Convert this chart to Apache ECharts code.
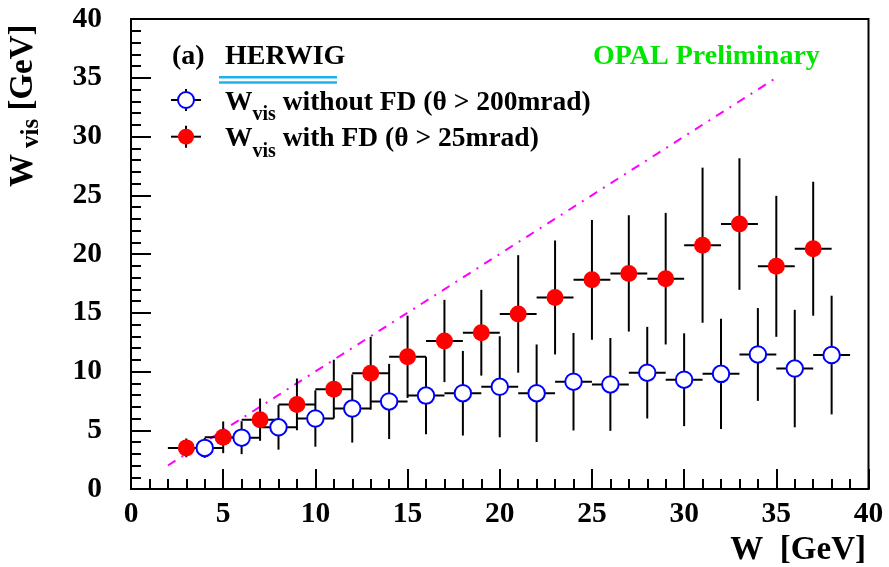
<!DOCTYPE html>
<html>
<head>
<meta charset="utf-8">
<script src="https://cdn.jsdelivr.net/npm/echarts@6/dist/echarts.min.js"></script>
<style>
  html, body { margin: 0; padding: 0; background: #fff; }
  #chart { width: 889px; height: 567px; }
</style>
</head>
<body>
<div id="chart"></div>
<script>
// W_vis with forward detectors (theta > 25 mrad), odd W bins
var wFD = [3, 5, 7, 9, 11, 13, 15, 17, 19, 21, 23, 25, 27, 29, 31, 33, 35, 37];
var visFD = [3.5, 4.4, 5.9, 7.2, 8.5, 9.85, 11.25, 12.6, 13.3, 14.9, 16.3, 17.8, 18.35, 17.9, 20.75, 22.55, 18.95, 20.45];
var errFD = [0.8, 1.35, 1.8, 2.2, 2.5, 3.1, 3.5, 3.5, 3.65, 5.0, 4.85, 5.1, 4.95, 5.6, 6.6, 5.6, 6.0, 5.7];

// W_vis without forward detectors (theta > 200 mrad), even W bins
var wNoFD = [4, 6, 8, 10, 12, 14, 16, 18, 20, 22, 24, 26, 28, 30, 32, 34, 36, 38];
var visNoFD = [3.5, 4.37, 5.25, 6.0, 6.85, 7.45, 7.95, 8.15, 8.7, 8.15, 9.13, 8.9, 9.9, 9.3, 9.8, 11.45, 10.25, 11.4];
var errNoFD = [0.85, 1.4, 1.9, 2.4, 2.9, 3.2, 3.3, 3.6, 4.3, 4.15, 4.15, 3.95, 3.9, 3.95, 4.7, 3.95, 5.0, 5.05];

var halfBin = 1;          // horizontal bar = bin width / 2
var diagonal = [2, 35];   // W_vis = W reference line
var axisRange = [0, 40];
var tickStep = 5;

var FONT = '"Liberation Serif", "Times New Roman", serif';
var ctx = document.createElement('canvas').getContext('2d');
function textWidth(s, size) {
    ctx.font = 'bold ' + size + 'px ' + FONT;
    return ctx.measureText(s).width;
}
// text made of pieces [text, fontSize, baselineShift, gapBefore], placed on one baseline
function multiText(x, y, parts, color, rotation) {
    var children = [], cx = 0;
    parts.forEach(function (p) {
        var size = p[1], base = p[2] || 0;
        cx += p[3] || 0;
        children.push({
            type: 'text', x: cx, y: base - 0.3375 * size,
            style: { text: p[0], font: 'bold ' + size + 'px ' + FONT, fill: color || '#000', textAlign: 'left', textVerticalAlign: 'middle' }
        });
        cx += textWidth(p[0], size);
    });
    return { type: 'group', x: x, y: y, rotation: rotation || 0, children: children, silent: true };
}

function pairs(xs, ys, es) {
    return xs.map(function (x, i) { return es ? [x, ys[i], es[i]] : [x, ys[i]]; });
}

function errorSeries(data) {
    return {
        type: 'custom',
        data: data,
        encode: { x: 0, y: 1 },
        silent: true,
        z: 2,
        renderItem: function (params, api) {
            var x = api.value(0), y = api.value(1), e = api.value(2);
            var l = api.coord([x - halfBin, y]), r = api.coord([x + halfBin, y]);
            var t = api.coord([x, y + e]), b = api.coord([x, y - e]);
            var st = { stroke: '#000', lineWidth: 2 };
            return {
                type: 'group',
                children: [
                    { type: 'line', shape: { x1: l[0], y1: l[1], x2: r[0], y2: r[1] }, style: st },
                    { type: 'line', shape: { x1: t[0], y1: t[1], x2: b[0], y2: b[1] }, style: st }
                ]
            };
        }
    };
}

function axis(extra) {
    return Object.assign({
        type: 'value',
        min: axisRange[0],
        max: axisRange[1],
        interval: tickStep,
        axisLine: { show: true, onZero: false, lineStyle: { color: '#000', width: 2 } },
        axisTick: { show: true, inside: true, length: 20, lineStyle: { color: '#000', width: 2 } },
        minorTick: { show: true, splitNumber: 5, length: 10, lineStyle: { color: '#000', width: 2 } },
        splitLine: { show: false }
    }, extra);
}

var legendMarker = function (cy, fill, stroke) {
    return [
        { type: 'line', shape: { x1: 171, y1: cy, x2: 201, y2: cy }, style: { stroke: '#000', lineWidth: 2 } },
        { type: 'line', shape: { x1: 186, y1: cy - 11, x2: 186, y2: cy + 11 }, style: { stroke: '#000', lineWidth: 2 } },
        { type: 'circle', shape: { cx: 186, cy: cy, r: 8 }, style: { fill: fill, stroke: stroke, lineWidth: stroke === 'none' ? 0 : 2 } }
    ];
};

var chart = echarts.init(document.getElementById('chart'));
chart.setOption({
    animation: false,
    backgroundColor: '#fff',
    grid: { left: 131, right: 20.5, top: 19, bottom: 78, show: true, borderColor: '#000', borderWidth: 2 },
    xAxis: axis({ axisLabel: { color: '#000', fontFamily: FONT, fontWeight: 'bold', fontSize: 29.5, margin: 10 } }),
    yAxis: axis({ axisLabel: { color: '#000', fontFamily: FONT, fontWeight: 'bold', fontSize: 29.5, margin: 29 } }),
    series: [
        {
            type: 'line',
            data: [[diagonal[0], diagonal[0]], [diagonal[1], diagonal[1]]],
            symbol: 'none',
            silent: true,
            z: 1,
            lineStyle: { color: '#ff00ff', width: 2, type: [9, 7, 2, 7] }
        },
        errorSeries(pairs(wNoFD, visNoFD, errNoFD)),
        errorSeries(pairs(wFD, visFD, errFD)),
        {
            type: 'scatter',
            data: pairs(wNoFD, visNoFD),
            symbol: 'circle',
            symbolSize: 16.5,
            z: 3,
            itemStyle: { color: '#fff', borderColor: '#0000ff', borderWidth: 2, opacity: 1 }
        },
        {
            type: 'scatter',
            data: pairs(wFD, visFD),
            symbol: 'circle',
            symbolSize: 17,
            z: 3,
            itemStyle: { color: '#ff0000', opacity: 1 }
        }
    ],
    graphic: [].concat(
        [
            multiText(172, 66.7, [['(a)', 28]]),
            multiText(225, 66.7, [['HERWIG', 28]]),
            { type: 'line', shape: { x1: 219, y1: 77.3, x2: 337, y2: 77.3 }, style: { stroke: '#1fb0ee', lineWidth: 2.5 } },
            { type: 'line', shape: { x1: 219, y1: 82.5, x2: 337, y2: 82.5 }, style: { stroke: '#1fb0ee', lineWidth: 2.5 } },
            multiText(593, 66, [['OPAL Preliminary', 28]], '#00e600')
        ],
        legendMarker(100, '#fff', '#0000ff'),
        legendMarker(136.7, '#ff0000', 'none'),
        [
            multiText(225, 111.7, [['W', 27.5], ['vis', 20, 10], [' without FD (\u03b8 > 200mrad)', 27.5]]),
            multiText(225, 148.3, [['W', 27.5], ['vis', 20, 10], [' with FD (\u03b8 > 25mrad)', 27.5]]),
            multiText(35, 187, [['W', 33], ['vis', 25, 5, 6], [' [GeV]', 33]], '#000', Math.PI / 2),
            multiText(866 - textWidth('W  [GeV]', 33), 562, [['W  [GeV]', 33]])
        ]
    )
});
</script>
</body>
</html>
